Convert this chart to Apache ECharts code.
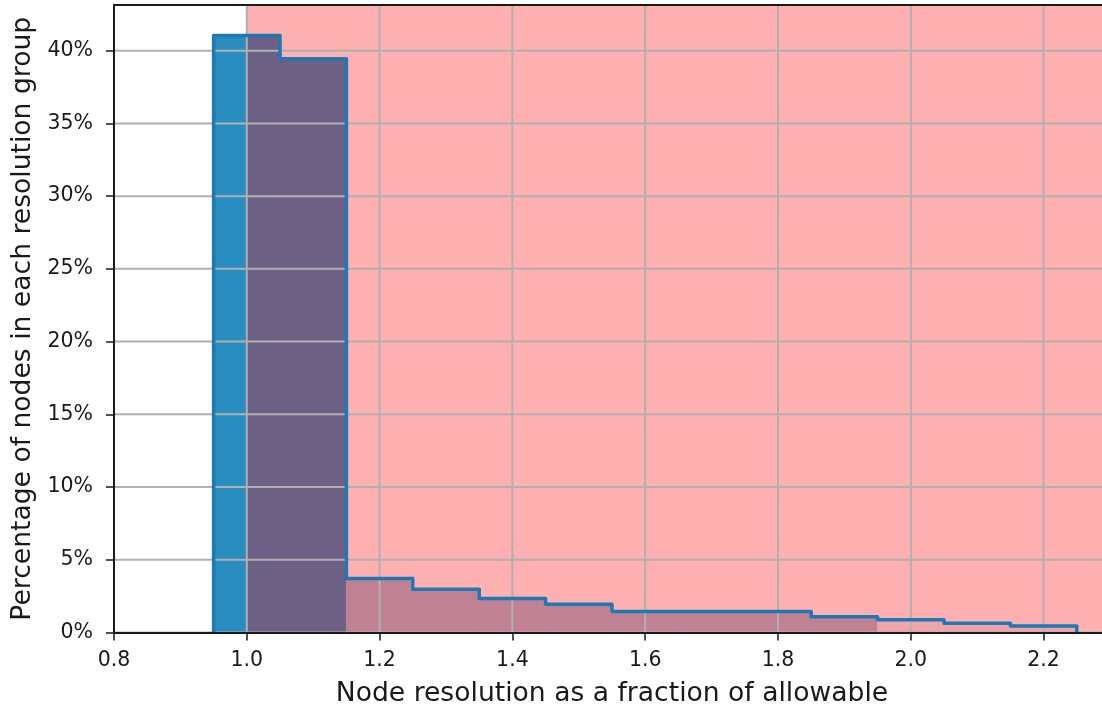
<!DOCTYPE html>
<html>
<head>
<meta charset="utf-8">
<script src="https://cdn.jsdelivr.net/npm/echarts@6/dist/echarts.min.js"></script>
<style>
  html, body { margin: 0; padding: 0; background: #fff; }
  #chart { width: 1102px; height: 709px; }
</style>
</head>
<body>
<div id="chart"></div>
<script>
// histogram bins (width 0.1) and share of nodes in each, in %
const binEdges = [0.95, 1.05, 1.15, 1.25, 1.35, 1.45, 1.55, 1.65, 1.75, 1.85, 1.95, 2.05, 2.15, 2.25]
const binPercent = [41.05, 39.45, 3.72, 2.98, 2.34, 1.95, 1.45, 1.45, 1.45, 1.08, 0.88, 0.63, 0.44]
// resolution above this is shaded
const allowableLimit = 1.0
const xTicks = [0.8, 1.0, 1.2, 1.4, 1.6, 1.8, 2.0, 2.2]
const yTicks = [0, 5, 10, 15, 20, 25, 30, 35, 40]

const font = 'DejaVu Sans'
const ink = '#1a1a1a'
const gridColor = '#b0b0b0'

// fill shade for each bin (by group)
const binFill = (i) => (i < 2 ? '#2a8dbf' : i < 10 ? '#a4bcd6' : '#e8ecf8')

const bins = binPercent.map((v, i) => [binEdges[i], binEdges[i + 1], v])

const outline = []
outline.push([binEdges[0], 0])
binPercent.forEach((v, i) => {
    outline.push([binEdges[i], v])
    outline.push([binEdges[i + 1], v])
})
outline.push([binEdges[binEdges.length - 1], 0])

const chart = echarts.init(document.getElementById('chart'))
const option = {
    animation: false,
    grid: {
        left: 114,
        top: 5,
        width: 996,
        height: 627.5,
        outerBoundsMode: 'none',
        containLabel: false,
    },
    xAxis: [{
        type: 'value',
        min: 0.8,
        max: 2.3,
        z: 10,
        name: 'Node resolution as a fraction of allowable',
        nameLocation: 'middle',
        nameGap: 48,
        nameTextStyle: { fontFamily: font, fontSize: 26.6, color: ink },
        axisLine: { lineStyle: { color: ink, width: 2 } },
        axisTick: {
            customValues: xTicks,
            length: 8,
            lineStyle: { color: ink, width: 1.5 },
        },
        axisLabel: {
            customValues: xTicks,
            margin: 18,
            fontFamily: font,
            fontSize: 20.5,
            color: ink,
            formatter: (v) => v.toFixed(1),
        },
        splitLine: { show: false },
    }, {
        type: 'value',
        position: 'top',
        min: 0.8,
        max: 2.3,
        z: 10,
        axisLine: { show: true, lineStyle: { color: ink, width: 2 } },
        axisTick: { show: false },
        axisLabel: { show: false },
        splitLine: { show: false },
    }],
    yAxis: {
        type: 'value',
        min: 0,
        max: 43.14,
        z: 10,
        name: 'Percentage of nodes in each resolution group',
        nameLocation: 'middle',
        nameGap: 77,
        nameTextStyle: { fontFamily: font, fontSize: 26.6, color: ink },
        axisLine: { show: true, lineStyle: { color: ink, width: 2 } },
        axisTick: {
            show: true,
            customValues: yTicks,
            length: 8,
            lineStyle: { color: ink, width: 1.5 },
        },
        axisLabel: {
            customValues: yTicks,
            margin: 21,
            fontFamily: font,
            fontSize: 20.5,
            color: ink,
            formatter: (v) => v + '%',
        },
        splitLine: { show: false },
    },
    series: [
        {
            // filled bins
            type: 'custom',
            z: 2,
            encode: { x: [0, 1], y: 2 },
            data: bins,
            renderItem(params, api) {
                const p0 = api.coord([api.value(0), api.value(2)])
                const p1 = api.coord([api.value(1), 0])
                const c = binFill(params.dataIndex)
                return {
                    type: 'rect',
                    shape: { x: p0[0], y: p0[1], width: p1[0] - p0[0], height: p1[1] - p0[1] },
                    style: { fill: c, stroke: c, lineWidth: 1 },
                }
            },
        },
        {
            // shaded region above allowable
            type: 'custom',
            z: 3,
            silent: true,
            encode: { x: 0 },
            data: [[allowableLimit]],
            renderItem(params, api) {
                const cs = params.coordSys
                const x = api.coord([api.value(0), 0])[0]
                return {
                    type: 'rect',
                    shape: { x: x, y: cs.y, width: cs.x + cs.width - x, height: cs.height },
                    style: { fill: 'rgba(255, 0, 0, 0.31)' },
                }
            },
        },
        {
            // vertical grid lines
            type: 'custom',
            z: 4,
            silent: true,
            encode: { x: 0 },
            data: xTicks.map((v) => [v]),
            renderItem(params, api) {
                const cs = params.coordSys
                const x = api.coord([api.value(0), 0])[0]
                return {
                    type: 'line',
                    shape: { x1: x, y1: cs.y, x2: x, y2: cs.y + cs.height },
                    style: { stroke: gridColor, lineWidth: 2 },
                }
            },
        },
        {
            // horizontal grid lines
            type: 'custom',
            z: 4,
            silent: true,
            encode: { y: 0 },
            data: yTicks.map((v) => [v]),
            renderItem(params, api) {
                const cs = params.coordSys
                const y = api.coord([0.8, api.value(0)])[1]
                return {
                    type: 'line',
                    shape: { x1: cs.x, y1: y, x2: cs.x + cs.width, y2: y },
                    style: { stroke: gridColor, lineWidth: 2 },
                }
            },
        },
        {
            // step outline
            type: 'line',
            z: 5,
            data: outline,
            showSymbol: false,
            silent: true,
            lineStyle: { color: '#1f77b4', width: 3.5, join: 'round' },
        },
    ],
}
chart.setOption(option)
</script>
</body>
</html>
